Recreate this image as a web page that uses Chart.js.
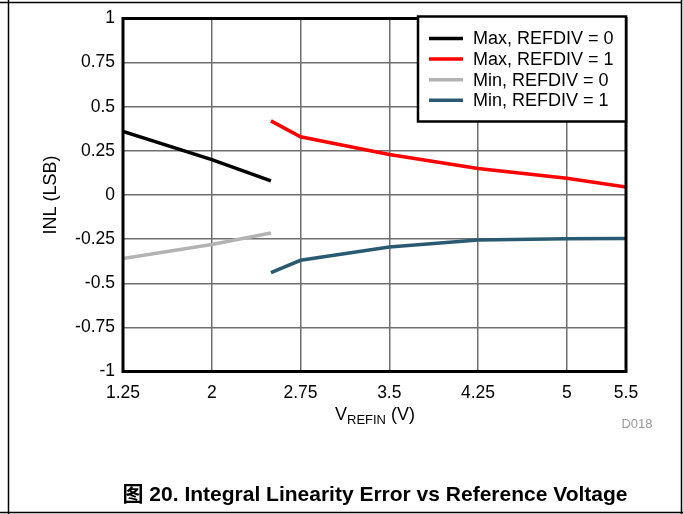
<!DOCTYPE html>
<html>
<head>
<meta charset="utf-8">
<script src="https://cdn.jsdelivr.net/npm/chart.js@4"></script>
<style>
html,body{margin:0;padding:0;background:#fff;}
#wrap{position:relative;width:683px;height:514px;}
canvas{display:block;}
</style>
</head>
<body>
<div id="wrap"><canvas id="c" width="683" height="514"></canvas></div>
<script>
// ---- data ----
const seriesLabels = ['Max, REFDIV = 0', 'Max, REFDIV = 1', 'Min, REFDIV = 0', 'Min, REFDIV = 1'];
const maxRef0X = [1.25, 2, 2.5];
const maxRef0Y = [0.36, 0.2, 0.08];
const maxRef1X = [2.5, 2.75, 3.5, 4.25, 5, 5.5];
const maxRef1Y = [0.42, 0.33, 0.23, 0.15, 0.095, 0.045];
const minRef0X = [1.25, 2, 2.5];
const minRef0Y = [-0.36, -0.28, -0.215];
const minRef1X = [2.5, 2.75, 3.5, 4.25, 5, 5.5];
const minRef1Y = [-0.44, -0.37, -0.295, -0.255, -0.248, -0.246];
const xTicks = [1.25, 2, 2.75, 3.5, 4.25, 5, 5.5];
const yTicks = [-1, -0.75, -0.5, -0.25, 0, 0.25, 0.5, 0.75, 1];
const colors = ['#000000', '#ff0000', '#b3b3b3', '#2a5a72'];

const xs = [maxRef0X, maxRef1X, minRef0X, minRef1X];
const ys = [maxRef0Y, maxRef1Y, minRef0Y, minRef1Y];

const datasets = seriesLabels.map((lab, i) => ({
  label: lab,
  data: xs[i].map((x, j) => ({x: x, y: ys[i][j]})),
  borderColor: colors[i],
  backgroundColor: colors[i],
  borderWidth: 3.5,
  pointRadius: 0,
  tension: 0,
  fill: false
}));

const FONT = '"Liberation Sans", Arial, sans-serif';

const decor = {
  id: 'decor',
  afterDraw(chart) {
    const ctx = chart.ctx;
    const a = chart.chartArea;
    ctx.save();
    // plot border
    ctx.strokeStyle = '#000';
    ctx.lineWidth = 3;
    ctx.strokeRect(a.left, a.top, a.right - a.left, a.bottom - a.top);

    // legend box
    const lx = 418, ly = 16.5, lw = 208, lh = 105;
    ctx.fillStyle = '#fff';
    ctx.fillRect(lx, ly, lw, lh);
    ctx.lineWidth = 2.5;
    ctx.strokeRect(lx, ly, lw, lh);
    ctx.font = '18px ' + FONT;
    ctx.textBaseline = 'middle';
    ctx.textAlign = 'left';
    seriesLabels.forEach((lab, i) => {
      const yy = 38.5 + i * 20.6;
      ctx.strokeStyle = colors[i];
      ctx.lineWidth = 3.5;
      ctx.beginPath();
      ctx.moveTo(429, yy);
      ctx.lineTo(463, yy);
      ctx.stroke();
      ctx.fillStyle = '#000';
      ctx.fillText(lab, 473, yy + 1);
    });

    // y title
    ctx.save();
    ctx.translate(51, 195);
    ctx.rotate(-Math.PI / 2);
    ctx.font = '18px ' + FONT;
    ctx.textAlign = 'center';
    ctx.textBaseline = 'middle';
    ctx.fillStyle = '#000';
    ctx.fillText('INL (LSB)', 0, 0);
    ctx.restore();

    // x title with subscript
    ctx.fillStyle = '#000';
    ctx.textBaseline = 'alphabetic';
    ctx.textAlign = 'left';
    ctx.font = '18px ' + FONT;
    const w1 = ctx.measureText('V').width;
    ctx.font = '13px ' + FONT;
    const w2 = ctx.measureText('REFIN').width;
    ctx.font = '18px ' + FONT;
    const w3 = ctx.measureText(' (V)').width;
    let sx = 375 - (w1 + w2 + w3) / 2;
    const by = 420;
    ctx.fillText('V', sx, by);
    ctx.font = '13px ' + FONT;
    ctx.fillText('REFIN', sx + w1, by + 4);
    ctx.font = '18px ' + FONT;
    ctx.fillText(' (V)', sx + w1 + w2, by);

    // D018
    ctx.font = '13px ' + FONT;
    ctx.fillStyle = '#999';
    ctx.textAlign = 'center';
    ctx.fillText('D018', 637, 428);

    // caption
    ctx.font = 'bold 21px ' + FONT + ', "Noto Sans CJK SC"';
    ctx.fillStyle = '#000';
    ctx.textAlign = 'center';
    ctx.fillText('图 20. Integral Linearity Error vs Reference Voltage', 375, 501);

    // outer frame
    ctx.strokeStyle = '#000';
    ctx.lineWidth = 1.5;
    ctx.beginPath();
    ctx.moveTo(0, 2.5); ctx.lineTo(682, 2.5);
    ctx.moveTo(8.5, 0); ctx.lineTo(8.5, 514);
    ctx.moveTo(681.5, 0); ctx.lineTo(681.5, 514);
    ctx.moveTo(0, 512.5); ctx.lineTo(683, 512.5);
    ctx.stroke();
    ctx.restore();
  }
};

new Chart(document.getElementById('c'), {
  type: 'line',
  data: { datasets: datasets },
  options: {
    responsive: false,
    animation: false,
    devicePixelRatio: 1,
    layout: { padding: { top: 16.5, right: 57, left: 0, bottom: 0 } },
    plugins: { legend: { display: false }, tooltip: { enabled: false } },
    scales: {
      x: {
        type: 'linear',
        min: 1.25, max: 5.5,
        afterBuildTicks: s => { s.ticks = xTicks.map(v => ({value: v})); },
        afterFit: s => { s.height = 514 - 371.5; },
        grid: { color: '#6e6e6e', lineWidth: 1.5, drawTicks: false },
        border: { display: false },
        ticks: {
          padding: 11, color: '#000', maxRotation: 0, autoSkip: false,
          font: { family: FONT, size: 17.5 },
          callback: v => String(v)
        }
      },
      y: {
        type: 'linear',
        min: -1, max: 1,
        afterBuildTicks: s => { s.ticks = yTicks.map(v => ({value: v})); },
        afterFit: s => { s.width = 123; },
        grid: { color: '#6e6e6e', lineWidth: 1.5, drawTicks: false },
        border: { display: false },
        ticks: {
          padding: 8, color: '#000',
          font: { family: FONT, size: 17.5 },
          callback: v => String(v)
        }
      }
    }
  },
  plugins: [decor]
});
</script>
</body>
</html>
